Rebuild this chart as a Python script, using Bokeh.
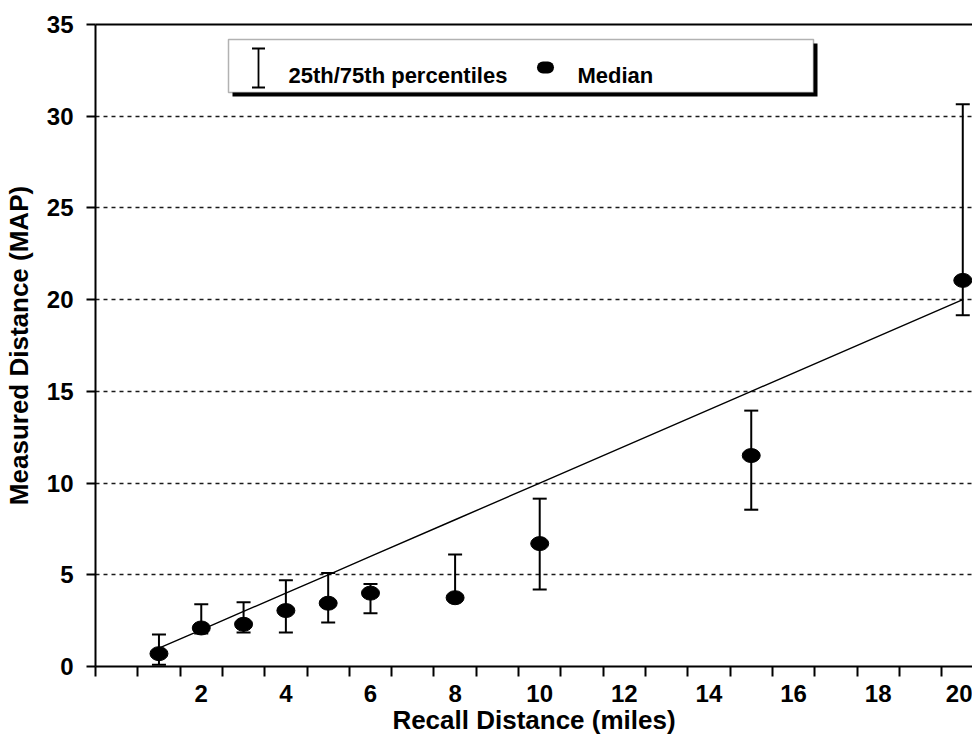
from bokeh.plotting import figure
from bokeh.models import (ColumnDataSource, Whisker, TeeHead, FixedTicker, LinearAxis,
                          BoxAnnotation, Label)
from bokeh.embed import file_html
from bokeh.resources import INLINE

# Recall distance (miles) against distance measured on the map
recall = [1, 2, 3, 4, 5, 6, 8, 10, 15, 20]
median = [0.7, 2.1, 2.3, 3.05, 3.45, 4.0, 3.75, 6.7, 11.5, 21.05]
p25 = [0.1, 1.8, 1.85, 1.85, 2.4, 2.9, 3.65, 4.2, 8.55, 19.15]
p75 = [1.75, 3.4, 3.5, 4.7, 5.1, 4.5, 6.1, 9.15, 13.95, 30.65]

x_tick_labels = [2, 4, 6, 8, 10, 12, 14, 16, 18, 20]
y_tick_labels = [0, 5, 10, 15, 20, 25, 30, 35]

FONT = "Liberation Sans"

src = ColumnDataSource(dict(recall=recall, median=median, p25=p25, p75=p75))

p = figure(width=972, height=738, x_range=(-0.5, 20.23), y_range=(0, 35),
           output_backend="svg", toolbar_location=None,
           min_border_left=95, min_border_right=0, min_border_top=24, min_border_bottom=72,
           background_fill_color="white", border_fill_color="white")
p.outline_line_color = None

# axes
xa = p.xaxis[0]
xa.ticker = FixedTicker(ticks=x_tick_labels, minor_ticks=[i - 0.5 for i in range(0, 21)])
xa.major_tick_out = 0
xa.major_tick_in = 0
xa.minor_tick_out = 10
xa.minor_tick_in = 0
xa.minor_tick_line_width = 2
xa.minor_tick_line_color = "black"
xa.axis_line_width = 2
xa.axis_line_color = "black"
xa.major_label_standoff = 8
xa.axis_label = "Recall Distance (miles)"
xa.axis_label_standoff = 0

ya = p.yaxis[0]
ya.ticker = FixedTicker(ticks=y_tick_labels, minor_ticks=[])
ya.major_tick_out = 9
ya.major_tick_in = 0
ya.major_tick_line_width = 2
ya.major_tick_line_color = "black"
ya.axis_line_width = 2
ya.axis_line_color = "black"
ya.major_label_standoff = 13
ya.axis_label = "Measured Distance (MAP)"
ya.axis_label_standoff = 10

for ax in (xa, ya):
    ax.major_label_text_font = FONT
    ax.major_label_text_font_style = "bold"
    ax.major_label_text_font_size = "24px"
    ax.major_label_text_color = "black"
    ax.axis_label_text_font = FONT
    ax.axis_label_text_font_style = "bold"
    ax.axis_label_text_font_size = "26px"
    ax.axis_label_text_color = "black"

# top border line of the plot area
top = LinearAxis(ticker=FixedTicker(ticks=[], minor_ticks=[]), axis_line_width=2,
                 axis_line_color="black", major_tick_out=0, major_tick_in=0,
                 minor_tick_out=0, minor_tick_in=0)
p.add_layout(top, "above")

# grid
p.xgrid.grid_line_color = None
p.ygrid.ticker = FixedTicker(ticks=y_tick_labels)
p.ygrid.grid_line_color = "#1a1a1a"
p.ygrid.grid_line_width = 1.6
p.ygrid.grid_line_dash = "4 4"

# line of equality
p.line(recall, recall, line_color="black", line_width=1.4)

# interquartile range whiskers
p.add_layout(Whisker(source=src, base="recall", lower="p25", upper="p75",
                     line_color="black", line_width=2,
                     lower_head=TeeHead(size=14, line_width=2, line_color="black"),
                     upper_head=TeeHead(size=14, line_width=2, line_color="black"),
                     level="glyph"))

# medians
p.ellipse(x="recall", y="median", width=18, height=14, width_units="screen",
          height_units="screen", source=src, fill_color="black", line_color="black")

# legend box with drop shadow
p.add_layout(BoxAnnotation(left=137, right=722, top=623, bottom=570,
                           left_units="screen", right_units="screen",
                           top_units="screen", bottom_units="screen",
                           fill_color="black", fill_alpha=1, line_color=None,
                           level="overlay"))
p.add_layout(BoxAnnotation(left=133, right=718, top=627, bottom=574,
                           left_units="screen", right_units="screen",
                           top_units="screen", bottom_units="screen",
                           fill_color="white", fill_alpha=1, line_color="black",
                           line_width=1.5, level="overlay"))
legend_src = ColumnDataSource(dict(base=[163], lower=[579], upper=[618]))
p.add_layout(Whisker(source=legend_src, base="base", lower="lower", upper="upper",
                     base_units="screen", lower_units="screen", upper_units="screen",
                     line_color="black", line_width=1.8,
                     lower_head=TeeHead(size=13, line_width=2, line_color="black"),
                     upper_head=TeeHead(size=13, line_width=2, line_color="black"),
                     level="overlay"))
p.add_layout(BoxAnnotation(left=441.5, right=458.5, top=605, bottom=593,
                           left_units="screen", right_units="screen",
                           top_units="screen", bottom_units="screen",
                           fill_color="black", fill_alpha=1, line_color=None,
                           border_radius=6, level="overlay"))
for lx, txt in ((193, "25th/75th percentiles"), (482, "Median")):
    p.add_layout(Label(x=lx, y=591, x_units="screen", y_units="screen", text=txt,
                       text_font=FONT, text_font_style="bold", text_font_size="22px",
                       text_color="black", text_baseline="alphabetic", level="overlay"))

open("out.html", "w").write(file_html(p, INLINE))
